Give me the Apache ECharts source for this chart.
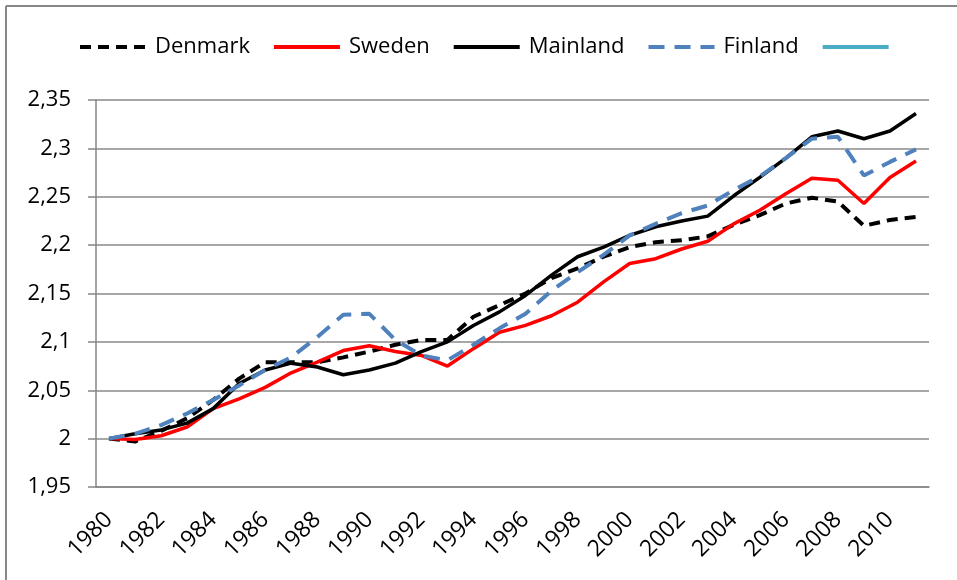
<!DOCTYPE html>
<html>
<head>
<meta charset="utf-8">
<script src="https://cdn.jsdelivr.net/npm/echarts@6/dist/echarts.min.js"></script>
<style>html,body{margin:0;padding:0;background:#fff}#c{width:957px;height:580px}</style>
</head>
<body>
<div id="c"></div>
<script>
var years = [1980,1981,1982,1983,1984,1985,1986,1987,1988,1989,1990,1991,1992,1993,1994,1995,1996,1997,1998,1999,2000,2001,2002,2003,2004,2005,2006,2007,2008,2009,2010,2011];
var denmark = [2.000,1.997,2.008,2.021,2.040,2.062,2.079,2.079,2.079,2.084,2.090,2.097,2.102,2.102,2.126,2.138,2.150,2.166,2.176,2.188,2.198,2.203,2.205,2.209,2.221,2.231,2.243,2.249,2.245,2.220,2.226,2.229];
var sweden = [2.000,1.999,2.003,2.012,2.031,2.041,2.053,2.068,2.079,2.091,2.096,2.090,2.086,2.075,2.093,2.110,2.117,2.127,2.141,2.162,2.181,2.186,2.196,2.204,2.222,2.236,2.253,2.269,2.267,2.243,2.270,2.287];
var mainland = [2.000,2.005,2.009,2.016,2.031,2.057,2.071,2.078,2.074,2.066,2.071,2.078,2.090,2.100,2.117,2.131,2.148,2.169,2.188,2.198,2.210,2.219,2.225,2.230,2.251,2.270,2.290,2.312,2.318,2.310,2.318,2.336];
var finland = [2.000,2.005,2.014,2.026,2.040,2.055,2.071,2.084,2.105,2.128,2.129,2.102,2.086,2.081,2.097,2.114,2.129,2.153,2.172,2.190,2.210,2.222,2.233,2.241,2.257,2.271,2.290,2.310,2.312,2.272,2.286,2.299];
var fifth = [];
var seriesNames = ['Denmark','Sweden','Mainland','Finland',' '];

var FONT = '"Open Sans", sans-serif';
var chart = echarts.init(document.getElementById('c'), null, {renderer:'canvas'});
chart.setOption({
  animation: false,
  backgroundColor: '#fff',
  graphic: [
    {type:'line', shape:{x1:6,y1:6,x2:957,y2:6}, style:{stroke:'#878787', lineWidth:2}},
    {type:'line', shape:{x1:6,y1:6,x2:6,y2:580}, style:{stroke:'#878787', lineWidth:2}}
  ],
  legend: {
    data: seriesNames,
    top: 31,
    left: 73,
    itemWidth: 66,
    itemHeight: 14,
    itemGap: 22,
    itemStyle: {opacity: 0},
    lineStyle: {width: 4},
    textStyle: {fontFamily: FONT, fontSize: 22, color:'#000', padding:[0,0,0,4]}
  },
  grid: {left: 96, right: 28, top: 100, bottom: 93, containLabel: false},
  xAxis: {
    type: 'category',
    data: years,
    boundaryGap: true,
    axisLine: {lineStyle: {color:'#878787', width:1.5}},
    axisTick: {interval: 0, length: 8, lineStyle:{color:'#878787', width:1.5}},
    axisLabel: {interval: 1, rotate: 45, margin: 29, fontFamily: FONT, fontSize: 23, color:'#000'},
    splitLine: {show:false}
  },
  yAxis: {
    type: 'value',
    min: 1.95, max: 2.35, interval: 0.05,
    axisLine: {show:true, lineStyle: {color:'#878787', width:1.5}},
    axisTick: {show:true, length: 8, lineStyle:{color:'#878787', width:1.5}},
    axisLabel: {margin: 25, fontFamily: FONT, fontSize: 22, color:'#000',
      formatter: function(v){ return String(Math.round(v*100)/100).replace('.', ','); }},
    splitLine: {lineStyle: {color:'#8a8a8a', width:1.5}}
  },
  series: [
    {name:'Denmark', type:'line', data: denmark, symbol:'none', color:'#000',
     lineStyle:{color:'#000', width:4, type:[11,7]}},
    {name:'Sweden', type:'line', data: sweden, symbol:'none', color:'#ff0000',
     lineStyle:{color:'#ff0000', width:3.5}},
    {name:'Mainland', type:'line', data: mainland, symbol:'none', color:'#000',
     lineStyle:{color:'#000', width:3.5}},
    {name:'Finland', type:'line', data: finland, symbol:'none', color:'#4f81bd',
     lineStyle:{color:'#4f81bd', width:4, type:[16,10]}},
    {name:' ', type:'line', data: fifth, symbol:'none', color:'#4bacc6',
     lineStyle:{color:'#4bacc6', width:4}}
  ]
});
</script>
</body>
</html>
